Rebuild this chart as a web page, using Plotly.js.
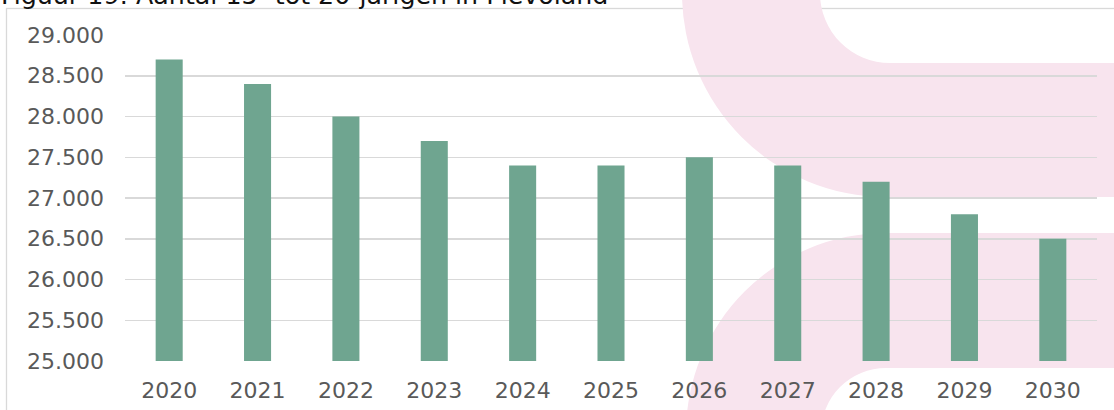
<!DOCTYPE html>
<html>
<head>
<meta charset="utf-8">
<script src="https://cdn.plot.ly/plotly-3.0.1.min.js"></script>
<style>
  html, body { margin: 0; padding: 0; background: #ffffff; }
  #wrap { position: relative; width: 1114px; height: 410px; overflow: hidden; background: #ffffff; }
  #deco { position: absolute; left: 0; top: 0; }
  #chart { position: absolute; left: 0; top: 0; width: 1114px; height: 410px; }
</style>
</head>
<body>
<div id="wrap">
  <svg id="deco" width="1114" height="410" xmlns="http://www.w3.org/2000/svg"></svg>
  <div id="chart"></div>
</div>
<script>
// ---- data ----
const years = ["2020", "2021", "2022", "2023", "2024", "2025", "2026", "2027", "2028", "2029", "2030"];
const aantal = [28700, 28400, 28000, 27700, 27400, 27400, 27500, 27400, 27200, 26800, 26500];
const yTickVals = [25000, 25500, 26000, 26500, 27000, 27500, 28000, 28500, 29000];
const yTickText = ["25.000", "25.500", "26.000", "26.500", "27.000", "27.500", "28.000", "28.500", "29.000"];
const titleText = "Figuur 19: Aantal 15- tot 20-jarigen in Flevoland";

// ---- decorative background (chart frame + pink bands) ----
const W = 1114, H = 410;
const pink = "#F8E4EE";
const grid = "#D9D9D9";
(function drawDeco() {
  const svg = document.getElementById("deco");
  const ns = "http://www.w3.org/2000/svg";
  const frame = document.createElementNS(ns, "rect");
  frame.setAttribute("x", 6.5); frame.setAttribute("y", 8.5);
  frame.setAttribute("width", 1300); frame.setAttribute("height", 800);
  frame.setAttribute("fill", "none"); frame.setAttribute("stroke", grid);
  frame.setAttribute("stroke-width", 1.3);
  svg.appendChild(frame);
  // upper band
  const u = { cx: 886, cy: -7, R: 204, icx: 890, r: 70 };
  const up = "M" + (u.cx - u.R) + ",-40 L" + (u.cx - u.R) + "," + u.cy +
    " A" + u.R + "," + u.R + " 0 0 0 " + u.cx + "," + (u.cy + u.R) +
    " L1140," + (u.cy + u.R) + " L1140," + (u.cy + u.r) + " L" + u.icx + "," + (u.cy + u.r) +
    " A" + u.r + "," + u.r + " 0 0 1 " + (u.icx - u.r) + "," + u.cy +
    " L" + (u.icx - u.r) + ",-40 Z";
  // lower band
  const d = { cx: 886, cy: 433, R: 200, r: 65 };
  const lo = "M" + (d.cx - d.R) + ",460 L" + (d.cx - d.R) + "," + d.cy +
    " A" + d.R + "," + d.R + " 0 0 1 " + d.cx + "," + (d.cy - d.R) +
    " L1140," + (d.cy - d.R) + " L1140," + (d.cy - d.r) + " L" + d.cx + "," + (d.cy - d.r) +
    " A" + d.r + "," + d.r + " 0 0 0 " + (d.cx - d.r) + "," + d.cy +
    " L" + (d.cx - d.r) + ",460 Z";
  [up, lo].forEach(function (p) {
    const el = document.createElementNS(ns, "path");
    el.setAttribute("d", p); el.setAttribute("fill", pink);
    svg.appendChild(el);
  });
})();

// ---- chart ----
const M = { l: 125, r: 17, t: 35, b: 49 };
const pw = W - M.l - M.r, ph = H - M.t - M.b;
const textCol = "#595959";
const fontFam = "DejaVu Sans, Verdana, sans-serif";

const trace = {
  type: "bar",
  x: years,
  y: aantal,
  marker: { color: "#6FA590", line: { width: 0 } },
  hoverinfo: "skip"
};

const layout = {
  width: W, height: H,
  margin: M,
  paper_bgcolor: "rgba(0,0,0,0)",
  plot_bgcolor: "rgba(0,0,0,0)",
  showlegend: false,
  bargap: 0.694,
  annotations: [{
    text: titleText,
    font: { family: fontFam, size: 25.3, color: "#111111" },
    xref: "paper", yref: "paper",
    x: (0 - M.l) / pw, xanchor: "left",
    y: (H - M.b + 4.5) / ph, yanchor: "middle",
    showarrow: false, borderpad: 0
  }],
  xaxis: {
    type: "category",
    showgrid: false, zeroline: false, showline: false,
    ticks: "",
    tickfont: { family: fontFam, size: 22, color: textCol },
    ticklabelstandoff: 14,
    fixedrange: true
  },
  yaxis: {
    range: [25000, 29000],
    tickvals: yTickVals, ticktext: yTickText,
    showgrid: true, gridcolor: grid, gridwidth: 1.5,
    zeroline: false, showline: false, ticks: "",
    tickfont: { family: fontFam, size: 22, color: textCol },
    ticklabelstandoff: 20,
    fixedrange: true
  }
};

Plotly.newPlot("chart", [trace], layout, { staticPlot: true, displayModeBar: false });
</script>
</body>
</html>
